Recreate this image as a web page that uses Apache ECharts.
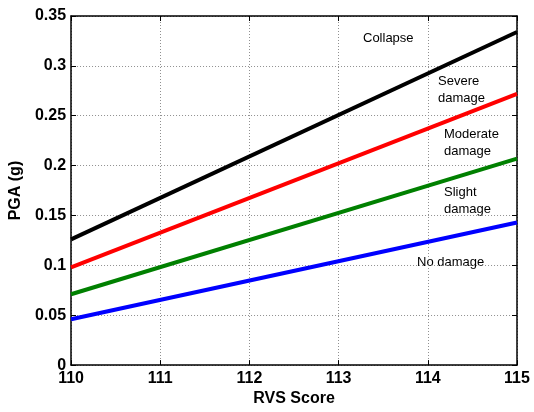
<!DOCTYPE html>
<html>
<head>
<meta charset="utf-8">
<script src="https://cdn.jsdelivr.net/npm/echarts@6/dist/echarts.min.js"></script>
<style>
  html, body { margin: 0; padding: 0; background: #fff; }
  #main { width: 534px; height: 412px; }
</style>
</head>
<body>
<div id="main"></div>
<script>
// values
var rvsScore = [110, 115];
var collapse = [0.126, 0.334];
var severe = [0.098, 0.272];
var moderate = [0.071, 0.207];
var slight = [0.046, 0.143];
var lineNames = ['collapse', 'severe', 'moderate', 'slight'];
var lineColors = ['#000000', '#ff0000', '#008000', '#0000ff'];
var xTicks = [110, 111, 112, 113, 114, 115];
var yTicks = [0, 0.05, 0.1, 0.15, 0.2, 0.25, 0.3, 0.35];

var font = 'Liberation Sans, Arial, sans-serif';
var chart = echarts.init(document.getElementById('main'));

function pairs(vals) {
    return rvsScore.map(function (x, i) { return [x, vals[i]]; });
}
var allVals = [collapse, severe, moderate, slight];
var series = allVals.map(function (v, i) {
    return {
        name: lineNames[i],
        type: 'line',
        data: pairs(v),
        symbol: 'none',
        lineStyle: { color: lineColors[i], width: 4 },
        xAxisIndex: 0, yAxisIndex: 0
    };
});

var gridLine = { show: true, lineStyle: { color: '#909090', type: [1, 2], width: 1 } };
var tick = { show: true, inside: true, length: 5, lineStyle: { color: '#000' } };
var axLine = { show: true, onZero: false, lineStyle: { color: '#000', width: 1.5 } };

function zoneText(txt, left, top) {
    return {
        type: 'text', left: left, top: top,
        style: { text: txt, font: '13px ' + font, fill: '#000', lineHeight: 17 }
    };
}

chart.setOption({
    animation: false,
    grid: { left: 69, top: 16, right: 17, bottom: 43 },
    xAxis: [{
        type: 'value', min: xTicks[0], max: xTicks[xTicks.length - 1], interval: 1,
        name: 'RVS Score', nameLocation: 'middle', nameGap: 25,
        nameTextStyle: { fontFamily: font, fontWeight: 'bold', fontSize: 16, color: '#000' },
        axisLine: axLine, axisTick: tick, splitLine: gridLine,
        axisLabel: { fontFamily: font, fontWeight: 'bold', fontSize: 16, color: '#000', margin: 5 }
    }, {
        type: 'value', position: 'top', min: xTicks[0], max: xTicks[xTicks.length - 1], interval: 1,
        axisLine: axLine, axisTick: tick, splitLine: { show: false }, axisLabel: { show: false }
    }],
    yAxis: [{
        type: 'value', min: yTicks[0], max: yTicks[yTicks.length - 1], interval: 0.05,
        name: 'PGA (g)', nameLocation: 'middle', nameGap: 43,
        nameTextStyle: { fontFamily: font, fontWeight: 'bold', fontSize: 16, color: '#000' },
        axisLine: axLine, axisTick: tick, splitLine: gridLine,
        axisLabel: { fontFamily: font, fontWeight: 'bold', fontSize: 16, color: '#000', margin: 5 }
    }, {
        type: 'value', position: 'right', min: yTicks[0], max: yTicks[yTicks.length - 1], interval: 0.05,
        axisLine: axLine, axisTick: tick, splitLine: { show: false }, axisLabel: { show: false }
    }],
    graphic: [
        zoneText('Collapse', 363, 30),
        zoneText('Severe\ndamage', 438, 73),
        zoneText('Moderate\ndamage', 444, 126),
        zoneText('Slight\ndamage', 444, 184),
        zoneText('No damage', 417, 254)
    ],
    series: series
});
</script>
</body>
</html>
